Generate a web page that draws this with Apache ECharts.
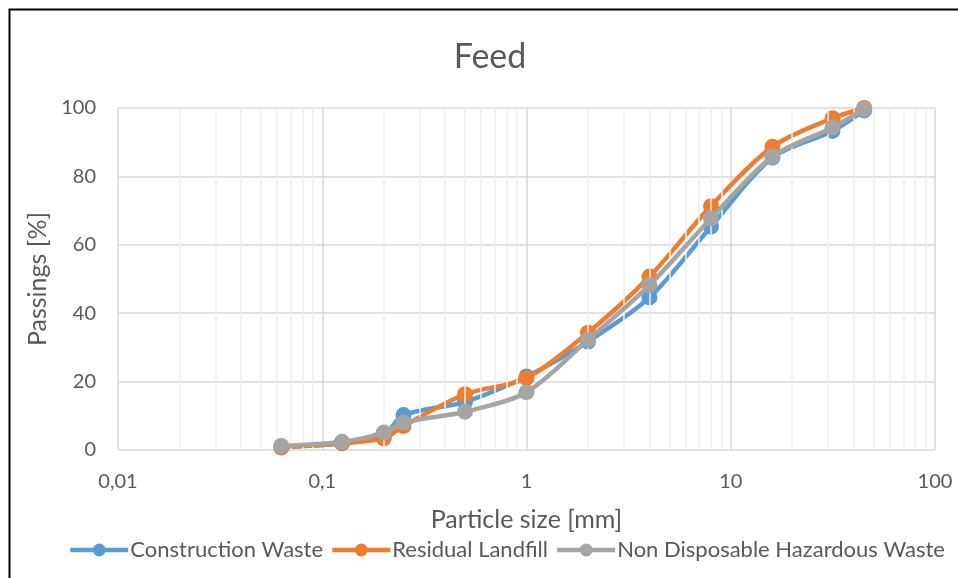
<!DOCTYPE html>
<html>
<head>
<meta charset="utf-8">
<title>Feed</title>
<script src="https://cdn.jsdelivr.net/npm/echarts@6/dist/echarts.min.js"></script>
<style>
  html, body { margin: 0; padding: 0; background: #fff; }
  #chart { width: 958px; height: 578px; }
</style>
</head>
<body>
<div id="chart"></div>
<script>
// sieve sizes in mm
const sizes = [0.063, 0.125, 0.2, 0.25, 0.5, 1, 2, 4, 8, 16, 31.5, 45]
const construction = [1.0, 2.0, 4.5, 10.2, 14.1, 21.5, 31.7, 44.6, 65.3, 85.5, 93.3, 99.3]
const residual = [0.7, 2.0, 3.4, 7.0, 16.3, 21.0, 34.3, 50.7, 71.3, 88.7, 97.0, 100]
const hazardous = [1.2, 2.4, 5.1, 8.0, 11.2, 16.9, 32.2, 48.2, 67.7, 85.8, 94.3, 99.7]
// minor log grid lines (2..9 within each decade)
const minorLines = [
  0.02, 0.03, 0.04, 0.05, 0.06, 0.07, 0.08, 0.09,
  0.2, 0.3, 0.4, 0.5, 0.6, 0.7, 0.8, 0.9,
  2, 3, 4, 5, 6, 7, 8, 9,
  20, 30, 40, 50, 60, 70, 80, 90
]

const font = 'Lato, "Open Sans", sans-serif'
const textColor = '#595959'

function pairs(vals) {
  return sizes.map((s, i) => [s, vals[i]])
}

function lineSeries(name, color, vals, z) {
  return {
    name: name,
    type: 'line',
    data: pairs(vals),
    smooth: 0.3,
    symbol: 'circle',
    symbolSize: 16,
    z: z,
    itemStyle: { color: color, borderWidth: 0 },
    lineStyle: { color: color, width: 4.5 },
    emphasis: { disabled: true }
  }
}

const myChart = echarts.init(document.getElementById('chart'))
let option = {
  animation: false,
  backgroundColor: '#fff',
  textStyle: { fontFamily: font },
  title: {
    text: 'Feed',
    left: 485,
    top: 35,
    textAlign: 'center',
    textStyle: { fontSize: 34, fontWeight: 'normal', color: textColor, fontFamily: font }
  },
  grid: { left: 118, right: 23, top: 108, bottom: 128 },
  legend: {
    bottom: 12,
    left: 63,
    itemWidth: 58,
    itemHeight: 16,
    itemGap: 7,
    textStyle: { fontSize: 22, color: textColor, fontFamily: font, padding: [0, 0, 0, -3] },
    lineStyle: { width: 4.5 },
    itemStyle: { borderWidth: 0 },
    data: ['Construction Waste', 'Residual Landfill', 'Non Disposable Hazardous Waste']
  },
  xAxis: {
    type: 'log',
    logBase: 10,
    min: 0.01,
    max: 100,
    name: 'Particle size [mm]',
    nameLocation: 'middle',
    nameGap: 57,
    nameTextStyle: { fontSize: 25, color: textColor, fontFamily: font },
    axisLine: { show: false },
    axisTick: { show: false },
    axisLabel: {
      fontSize: 20,
      color: textColor,
      margin: 22,
      formatter: (v) => String(v).replace('.', ',')
    },
    splitLine: { show: true, lineStyle: { color: '#d9d9d9', width: 1.5 } }
  },
  yAxis: {
    type: 'value',
    min: 0,
    max: 100,
    interval: 20,
    name: 'Passings [%]',
    nameLocation: 'middle',
    nameGap: 68,
    nameTextStyle: { fontSize: 25, color: textColor, fontFamily: font },
    axisLine: { show: false },
    axisTick: { show: false },
    axisLabel: { fontSize: 20, color: textColor, margin: 22 },
    splitLine: { show: true, lineStyle: { color: '#d9d9d9', width: 1.5 } }
  },
  graphic: [
    {
      type: 'rect',
      shape: { x: 9.5, y: 9.5, width: 980, height: 600 },
      style: { fill: 'none', stroke: '#000', lineWidth: 2 },
      z: 100
    }
  ],
  series: [
    {
      name: 'minor',
      type: 'line',
      data: [],
      z: 1,
      silent: true,
      markLine: {
        silent: true,
        symbol: 'none',
        label: { show: false },
        lineStyle: { color: '#efefef', width: 1.5, type: 'solid' },
        data: minorLines.map((v) => ({ xAxis: v }))
      }
    },
    lineSeries('Construction Waste', '#5B9BD5', construction, 3),
    lineSeries('Residual Landfill', '#ED7D31', residual, 4),
    lineSeries('Non Disposable Hazardous Waste', '#A5A5A5', hazardous, 5)
  ]
}
myChart.setOption(option)
window.addEventListener('resize', () => {
  myChart.resize()
})
</script>
</body>
</html>
